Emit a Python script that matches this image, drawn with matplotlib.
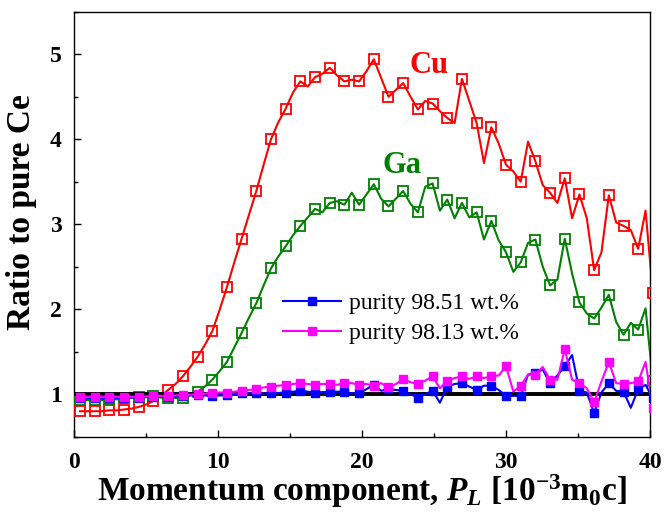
import numpy as np
import matplotlib
matplotlib.use("Agg")
import matplotlib.pyplot as plt
from matplotlib.ticker import MultipleLocator, FixedLocator

plt.rcParams['font.family'] = ['Liberation Serif', 'DejaVu Serif']
plt.rcParams['mathtext.fontset'] = 'custom'
plt.rcParams['mathtext.rm'] = 'Liberation Serif:bold'
plt.rcParams['mathtext.it'] = 'Liberation Serif:italic:bold'
plt.rcParams['mathtext.bf'] = 'Liberation Serif:bold'

# momentum grid (10^-3 m0c), markers every second point
x = np.round(0.42 + 0.51 * np.arange(79), 3)

cu = [0.80, 0.80, 0.80, 0.80, 0.81, 0.81, 0.82, 0.83, 0.85, 0.88,
      0.92, 0.98, 1.05, 1.12, 1.21, 1.32, 1.44, 1.58, 1.74, 1.99,
      2.26, 2.55, 2.83, 3.11, 3.39, 3.70, 4.00, 4.20, 4.36, 4.55,
      4.68, 4.62, 4.73, 4.77, 4.84, 4.75, 4.68, 4.70, 4.68, 4.80,
      4.94, 4.72, 4.50, 4.58, 4.66, 4.50, 4.35, 4.45, 4.42, 4.33,
      4.25, 4.19, 4.71, 4.45, 4.19, 3.72, 4.14, 3.95, 3.70, 3.62,
      3.50, 3.97, 3.74, 3.46, 3.37, 3.25, 3.54, 3.07, 3.35, 3.07,
      2.46, 2.67, 3.34, 3.02, 2.98, 2.93, 2.71, 3.16, 2.19]

ga = [0.93, 0.93, 0.93, 0.93, 0.94, 0.94, 0.95, 0.96, 0.97, 0.97,
      0.98, 0.96, 0.95, 0.955, 0.96, 0.99, 1.03, 1.09, 1.17, 1.27,
      1.38, 1.55, 1.72, 1.90, 2.07, 2.28, 2.48, 2.62, 2.74, 2.87,
      2.98, 3.08, 3.18, 3.14, 3.25, 3.27, 3.23, 3.37, 3.23, 3.35,
      3.47, 3.30, 3.21, 3.30, 3.39, 3.24, 3.14, 3.44, 3.48, 3.16,
      3.29, 3.07, 3.25, 3.08, 3.14, 2.82, 3.04, 2.81, 2.67, 2.44,
      2.55, 2.78, 2.82, 2.50, 2.28, 2.35, 2.83, 2.42, 2.08, 1.95,
      1.89, 2.02, 2.17, 1.85, 1.70, 1.84, 1.76, 2.01, 1.15]

p9851 = [0.95, 0.95, 0.95, 0.95, 0.95, 0.955, 0.96, 0.96, 0.96, 0.965,
         0.97, 0.97, 0.97, 0.975, 0.98, 0.985, 0.99, 0.985, 0.98, 0.985,
         0.99, 1.00, 1.01, 1.01, 1.01, 1.01, 1.01, 1.015, 1.02, 1.03,
         1.04, 1.03, 1.02, 1.025, 1.03, 1.03, 1.03, 1.01, 1.01, 1.06,
         1.11, 1.04, 1.06, 1.05, 1.04, 1.00, 0.96, 1.00, 1.04, 0.90,
         1.09, 1.12, 1.13, 1.09, 1.05, 1.10, 1.10, 1.05, 0.98, 0.98,
         0.98, 1.23, 1.25, 1.29, 1.13, 1.22, 1.33, 1.46, 1.04, 1.02,
         0.78, 1.02, 1.13, 1.04, 1.03, 0.84, 1.06, 1.11, 0.95]

p9813 = [0.97, 0.97, 0.97, 0.97, 0.97, 0.97, 0.97, 0.97, 0.97, 0.975,
         0.98, 0.98, 0.98, 0.985, 0.99, 0.995, 1.00, 1.005, 1.02, 1.02,
         1.02, 1.03, 1.04, 1.05, 1.06, 1.08, 1.09, 1.10, 1.11, 1.12,
         1.13, 1.12, 1.11, 1.12, 1.12, 1.11, 1.13, 1.13, 1.11, 1.12,
         1.10, 1.13, 1.08, 1.12, 1.18, 1.14, 1.12, 1.16, 1.21, 1.07,
         1.16, 1.19, 1.21, 1.18, 1.21, 1.19, 1.21, 1.22, 1.33, 1.03,
         1.10, 1.23, 1.23, 1.32, 1.17, 1.17, 1.53, 1.17, 1.13, 1.07,
         0.91, 1.15, 1.38, 1.13, 1.12, 1.13, 1.15, 1.38, 0.84]

xticks = [0, 10, 20, 30, 40]
yticks = [1, 2, 3, 4, 5]

fig = plt.figure(figsize=(6.66, 5.2), dpi=100)
ax = fig.add_axes([74 / 666, 1 - 436.7 / 520, 576 / 666, 425 / 520])

ax.plot(x, cu, color='#ff0000', lw=1.5, marker='s', ms=7.5, mfc='none',
        mec='#ff0000', mew=1.3, markevery=2, zorder=3)
ax.plot(x, ga, color='#008000', lw=1.5, marker='s', ms=7.5, mfc='none',
        mec='#008000', mew=1.3, markevery=2, zorder=3)
ax.axhline(1.0, color='black', lw=2.8, zorder=4)
ax.plot(x, p9851, color='#0000ff', lw=1.5, marker='s', ms=5.5,
        markevery=2, zorder=5, label='purity 98.51 wt.%')
ax.plot(x, p9813, color='#ff00ff', lw=1.5, marker='s', ms=5.5,
        markevery=2, zorder=6, label='purity 98.13 wt.%')

ax.text(24.65, 4.78, 'Cu', color='#ff0000', fontsize=22, fontweight='bold',
        ha='center', va='baseline')
ax.text(22.78, 3.60, 'Ga', color='#008000', fontsize=22, fontweight='bold',
        ha='center', va='baseline')

ax.set_xlim(0, 40)
ax.set_ylim(0.5, 5.5)
ax.xaxis.set_major_locator(FixedLocator(xticks))
ax.xaxis.set_minor_locator(MultipleLocator(5))
ax.yaxis.set_major_locator(FixedLocator(yticks))
ax.yaxis.set_minor_locator(MultipleLocator(0.5))
ax.tick_params(which='both', direction='in', top=False, right=False, width=1.0)
ax.tick_params(which='major', length=5)
ax.tick_params(which='minor', length=3)
ax.tick_params(axis='x', which='major', labelsize=17, pad=11)
ax.tick_params(axis='y', which='major', labelsize=17, pad=9)
for lab in ax.get_xticklabels() + ax.get_yticklabels():
    lab.set_fontweight('bold')
for s in ax.spines.values():
    s.set_linewidth(1.0)

ax.set_xlabel(r'Momentum component, $P_{L}$ [10$^{-3}$m$_{0}$c]',
              fontsize=24, fontweight='bold')
ax.xaxis.set_label_coords(0.5, -0.083)
ax.set_ylabel('Ratio to pure Ce', fontsize=24, fontweight='bold')
ax.yaxis.set_label_coords(-0.064, 0.529)

leg = ax.legend(loc='center left', bbox_to_anchor=(0.363, 0.279),
                frameon=False, borderpad=0, borderaxespad=0,
                handlelength=2.45, handletextpad=0.34, labelspacing=0.35,
                numpoints=1, prop={'family': 'Liberation Serif', 'size': 17})

fig.savefig('out.png', dpi=100)
